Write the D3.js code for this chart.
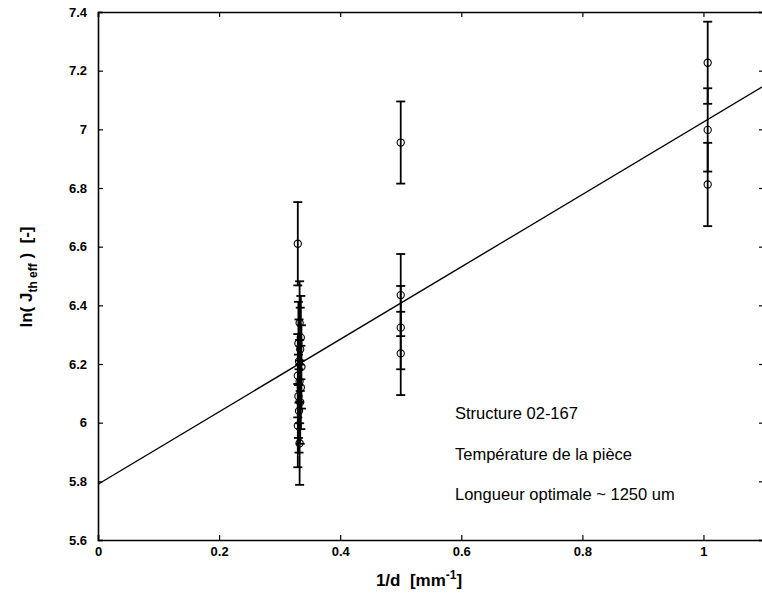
<!DOCTYPE html>
<html>
<head>
<meta charset="utf-8">
<script src="https://cdn.jsdelivr.net/npm/d3@7"></script>
<style>
  html, body { margin: 0; padding: 0; background: #fff; }
  svg { display: block; }
  text { font-family: "Liberation Sans", Arial, Helvetica, sans-serif; fill: #000; }
</style>
</head>
<body>
<svg id="chart" width="762" height="602"></svg>
<script>
// ---- data ----
const xValues = [0.330, 0.333, 0.335, 0.331, 0.334, 0.332, 0.336, 0.330, 0.333, 0.335, 0.331, 0.334, 0.332, 0.330, 0.333,
                 0.500, 0.500, 0.500, 0.500,
                 1.007, 1.007, 1.007];
const yValues = [6.61, 6.34, 6.29, 6.27, 6.25, 6.21, 6.19, 6.16, 6.14, 6.12, 6.09, 6.07, 6.04, 5.99, 5.93,
                 6.955, 6.435, 6.324, 6.236,
                 7.227, 6.998, 6.812];
const yErrors = [0.142, 0.142, 0.142, 0.142, 0.142, 0.142, 0.142, 0.142, 0.142, 0.142, 0.142, 0.142, 0.142, 0.142, 0.142,
                 0.140, 0.140, 0.142, 0.142,
                 0.140, 0.142, 0.142];
const fitIntercept = 5.79;
const fitSlope = 1.235;
const xTicks = [0, 0.2, 0.4, 0.6, 0.8, 1];
const yTicks = [5.6, 5.8, 6, 6.2, 6.4, 6.6, 6.8, 7, 7.2, 7.4];
const xDomain = [0, 1.1];
const yDomain = [5.6, 7.4];
const notes = ["Structure 02-167", "Température de la pièce", "Longueur optimale ~ 1250 um"];

// ---- layout ----
const svg = d3.select("#chart");
const mLeft = 98, mRight = 764, mTop = 12, mBottom = 540;
const x = d3.scaleLinear().domain(xDomain).range([mLeft, mRight]);
const y = d3.scaleLinear().domain(yDomain).range([mBottom, mTop]);

const tickLen = 5;
const fmt = d => d3.format("")(d);

// axes (Matlab-like box, inward ticks)
const axB = svg.append("g").attr("transform", `translate(0,${mBottom})`)
  .call(d3.axisBottom(x).tickValues(xTicks).tickSize(-tickLen).tickPadding(9).tickFormat(fmt));
const axT = svg.append("g").attr("transform", `translate(0,${mTop})`)
  .call(d3.axisTop(x).tickValues(xTicks).tickSize(-tickLen).tickFormat(""));
const axL = svg.append("g").attr("transform", `translate(${mLeft},0)`)
  .call(d3.axisLeft(y).tickValues(yTicks).tickSize(-tickLen).tickPadding(11).tickFormat(fmt));
const axR = svg.append("g").attr("transform", `translate(${mRight},0)`)
  .call(d3.axisRight(y).tickValues(yTicks).tickSize(-tickLen).tickFormat(""));

[axB, axT, axL, axR].forEach(a => {
  a.select(".domain").attr("stroke", "#000").attr("stroke-width", 1.6);
  a.selectAll(".tick line").attr("stroke", "#000").attr("stroke-width", 1.2);
  a.selectAll("text").attr("font-size", 13).attr("font-weight", "bold").attr("fill", "#000");
});
axB.selectAll(".tick text").attr("dy", "0.55em");

// regression line
svg.append("line")
  .attr("x1", x(xDomain[0])).attr("y1", y(fitIntercept + fitSlope * xDomain[0]))
  .attr("x2", x(xDomain[1])).attr("y2", y(fitIntercept + fitSlope * xDomain[1]))
  .attr("stroke", "#000").attr("stroke-width", 1.4);

// error bars
const data = xValues.map((d, i) => ({ x: d, y: yValues[i], e: yErrors[i] }));
const capW = 4.5;
const eb = svg.append("g").attr("stroke", "#000").attr("stroke-width", 1.8);
eb.selectAll("line.v").data(data).join("line").attr("class", "v")
  .attr("x1", d => x(d.x)).attr("x2", d => x(d.x))
  .attr("y1", d => y(d.y - d.e)).attr("y2", d => y(d.y + d.e));
eb.selectAll("line.ct").data(data).join("line").attr("class", "ct")
  .attr("x1", d => x(d.x) - capW).attr("x2", d => x(d.x) + capW)
  .attr("y1", d => y(d.y + d.e)).attr("y2", d => y(d.y + d.e));
eb.selectAll("line.cb").data(data).join("line").attr("class", "cb")
  .attr("x1", d => x(d.x) - capW).attr("x2", d => x(d.x) + capW)
  .attr("y1", d => y(d.y - d.e)).attr("y2", d => y(d.y - d.e));

// markers
svg.append("g").selectAll("circle").data(data).join("circle")
  .attr("cx", d => x(d.x)).attr("cy", d => y(d.y)).attr("r", 3.6)
  .attr("fill", "none").attr("stroke", "#000").attr("stroke-width", 1.1);

// annotations
const noteY = [419, 460, 500];
svg.append("g").selectAll("text").data(notes).join("text")
  .attr("x", 455).attr("y", (d, i) => noteY[i])
  .attr("font-size", 16.5).text(d => d);

// x label
const xl = svg.append("text").attr("x", 419).attr("y", 586)
  .attr("text-anchor", "middle").attr("font-size", 17).attr("font-weight", "bold");
xl.append("tspan").text("1/d\u00a0\u00a0[mm");
xl.append("tspan").attr("font-size", 12).attr("dy", -7).text("-1");
xl.append("tspan").attr("dy", 7).text("]");

// y label
const yl = svg.append("text").attr("transform", "translate(32,277) rotate(-90)")
  .attr("text-anchor", "middle").attr("font-size", 17).attr("font-weight", "bold");
yl.append("tspan").text("ln(\u00a0J");
yl.append("tspan").attr("font-size", 12).attr("dy", 5).text("th eff");
yl.append("tspan").attr("dy", -5).text("\u00a0)\u00a0\u00a0[-]");
</script>
</body>
</html>
